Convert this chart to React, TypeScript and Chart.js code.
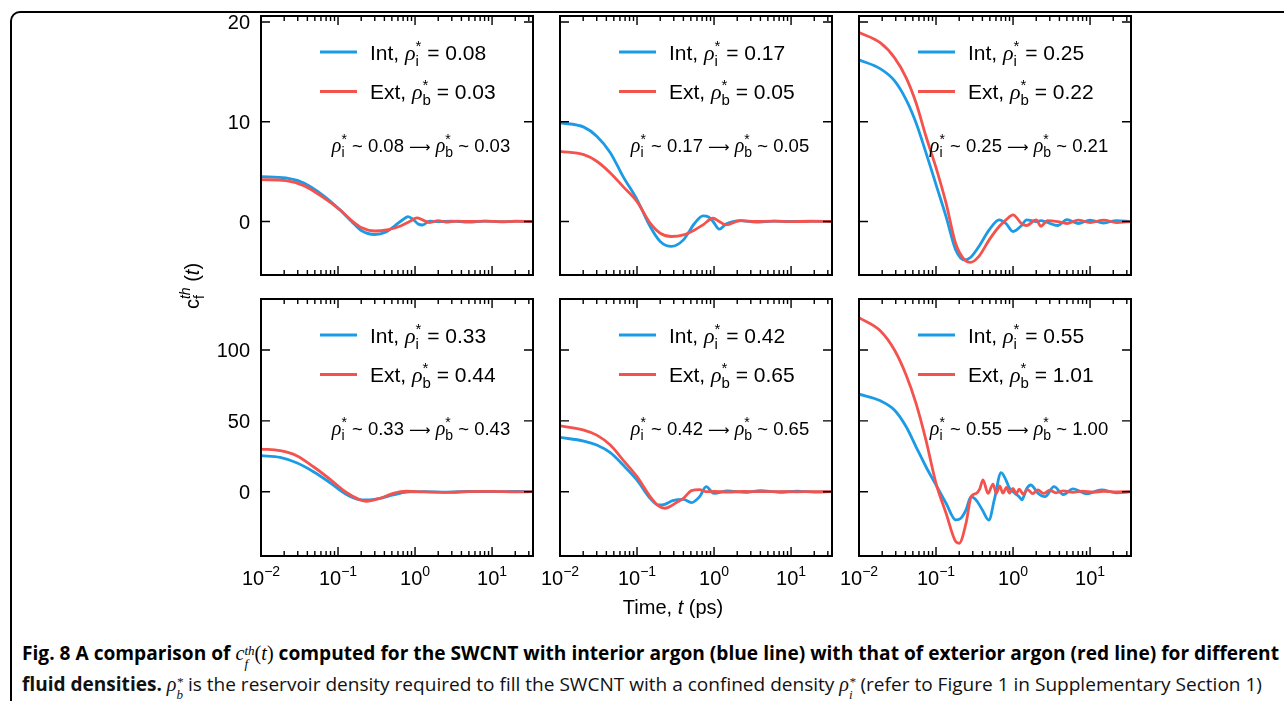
import React, { useEffect, useRef } from "react";
import { Chart, registerables } from "chart.js";

Chart.register(...registerables);

const SANS = '"Liberation Sans", Arial, sans-serif';
const SERIF = '"Liberation Serif", "DejaVu Serif", serif';
const ARROW_FONT = '"DejaVu Sans", sans-serif';
const BLUE = "#1b9be6";
const RED = "#f4534d";

// ---------- data (time in ps, c_f^th(t)) ----------
const T1_INT = [0.01, 0.021, 0.036, 0.062, 0.105, 0.15, 0.2, 0.3, 0.42, 0.55, 0.7, 0.81, 0.95, 1.1, 1.25, 1.55, 2.0, 3.0, 5, 8, 13, 20, 34];
const C1_INT = [4.5, 4.37, 3.86, 2.7, 1.2, 0.0, -0.9, -1.3, -1.05, -0.4, 0.2, 0.5, 0.2, -0.25, -0.35, 0.05, 0.0, 0.05, -0.05, 0.05, -0.03, 0.03, 0];
const T1_EXT = [0.01, 0.021, 0.036, 0.062, 0.105, 0.15, 0.2, 0.3, 0.45, 0.65, 0.85, 1.06, 1.25, 1.55, 2.0, 2.5, 3.5, 5, 8, 13, 20, 34];
const C1_EXT = [4.2, 4.1, 3.6, 2.5, 1.2, 0.1, -0.6, -0.95, -0.8, -0.45, 0.0, 0.37, 0.17, -0.1, 0.1, -0.05, 0.05, 0, 0.03, -0.02, 0.02, 0];

const T2_INT = [0.01, 0.0204, 0.03, 0.045, 0.066, 0.1, 0.148, 0.2, 0.28, 0.4, 0.56, 0.72, 0.85, 0.97, 1.17, 1.43, 2.2, 3.5, 6, 10, 18, 34];
const C2_INT = [9.9, 9.46, 8.55, 6.9, 4.5, 2.2, -0.5, -2.0, -2.5, -1.84, -0.17, 0.57, 0.45, 0.0, -0.77, -0.25, 0.1, -0.05, 0.05, 0, 0.03, 0];
const T2_EXT = [0.01, 0.0204, 0.03, 0.045, 0.066, 0.1, 0.148, 0.2, 0.28, 0.4, 0.56, 0.72, 0.97, 1.17, 1.43, 2.2, 3.5, 6, 10, 18, 34];
const C2_EXT = [7.04, 6.7, 6.04, 4.87, 3.5, 2.0, -0.17, -1.17, -1.5, -1.34, -0.84, -0.33, 0.33, 0.0, -0.33, 0.1, 0, 0.03, -0.02, 0.02, 0];

const T3_INT = [0.01, 0.019, 0.029, 0.041, 0.055, 0.074, 0.1, 0.135, 0.18, 0.235, 0.28, 0.36, 0.49, 0.66, 0.81, 1.0, 1.29, 1.5, 2.0, 2.3, 2.8, 3.8, 5, 7, 10, 15, 22, 34];
const C3_INT = [16.2, 15.3, 14.1, 12.2, 9.9, 6.9, 3.7, 0.5, -2.85, -3.85, -3.6, -2.5, -0.84, 0.17, -0.2, -1.0, -0.4, 0.17, 0, 0.1, -0.1, -0.4, 0.2, -0.2, 0.15, -0.15, 0.1, 0];
const T3_EXT = [0.01, 0.019, 0.029, 0.041, 0.055, 0.074, 0.1, 0.135, 0.18, 0.235, 0.28, 0.36, 0.49, 0.66, 0.81, 1.0, 1.29, 1.5, 2.0, 2.3, 2.8, 3.8, 5, 7, 10, 15, 22, 34];
const C3_EXT = [18.95, 17.9, 16.4, 14.4, 11.9, 8.55, 5.4, 1.85, -2.2, -3.85, -4.1, -3.5, -1.84, -0.5, 0.17, 0.67, -0.2, -0.4, 0.17, -0.47, 0.1, 0.0, -0.2, 0.15, -0.1, 0.15, -0.1, 0];

const T4_INT = [0.01, 0.0177, 0.029, 0.048, 0.079, 0.127, 0.19, 0.233, 0.35, 0.52, 0.78, 1.3, 2.6, 5, 10, 20, 34];
const C4_INT = [25.4, 24.2, 20.4, 14.1, 6.3, -1.8, -5.6, -5.8, -4.7, -2.3, -0.3, 0, -0.3, 0.2, 0, 0.2, 0];
const T4_EXT = [0.01, 0.0177, 0.029, 0.048, 0.079, 0.127, 0.19, 0.233, 0.35, 0.52, 0.78, 1.3, 2.6, 5, 10, 20, 34];
const C4_EXT = [30.1, 28.9, 25.4, 17.6, 8.7, -0.4, -5.6, -6.8, -4.7, -1.2, 0.3, -0.2, -0.5, 0, 0.2, -0.2, 0];

const T5_INT = [0.01, 0.0204, 0.03, 0.045, 0.066, 0.1, 0.148, 0.19, 0.23, 0.29, 0.4, 0.51, 0.65, 0.79, 1.0, 1.5, 2.5, 4, 7, 12, 20, 34];
const C5_INT = [38.3, 35.7, 32.9, 27.5, 18.8, 8.2, -4.7, -9.4, -8.9, -6.3, -5.4, -7.7, -3.5, 3.5, -1.2, 0.5, -0.5, 0.7, -0.4, 0.3, -0.3, 0];
const T5_EXT = [0.01, 0.0204, 0.03, 0.045, 0.066, 0.1, 0.148, 0.19, 0.23, 0.29, 0.34, 0.4, 0.51, 0.65, 0.79, 1.0, 1.5, 2.5, 4, 7, 12, 20, 34];
const C5_EXT = [46.5, 43.5, 39.9, 32.9, 22.3, 10.6, -3.5, -10.1, -11.7, -9.4, -7.0, -4.7, 0.7, 1.4, 0, 0.2, -0.3, 0.2, 0, 0.1, -0.1, 0.1, 0];

const T6_INT = [0.01, 0.019, 0.029, 0.041, 0.055, 0.074, 0.1, 0.135, 0.18, 0.21, 0.245, 0.285, 0.33, 0.4, 0.485, 0.575, 0.7, 0.81, 0.9, 1.05, 1.2, 1.3, 1.5, 1.7, 2.1, 2.6, 3.4, 4.5, 6, 9, 14, 22, 34];
const C6_INT = [68.8, 64.1, 57.5, 45.8, 31.7, 17.6, 4.7, -8.2, -19.9, -18.8, -12.9, -3.5, -5.8, -12.9, -20.0, -5.0, 13.4, 8.2, 2.4, -1.0, -3.5, -5.8, 2.0, 4.7, -1.0, -3.5, 3.5, -2.0, 2.0, -1.5, 1.2, -0.8, 0];
const T6_EXT = [0.01, 0.019, 0.029, 0.041, 0.055, 0.074, 0.1, 0.135, 0.18, 0.2, 0.245, 0.286, 0.333, 0.37, 0.407, 0.473, 0.55, 0.607, 0.67, 0.74, 0.82, 0.9, 1.0, 1.1, 1.2, 1.35, 1.55, 1.8, 2.1, 2.5, 3, 3.6, 4.5, 6, 8, 11, 15, 22, 34];
const C6_EXT = [122.8, 113.4, 99.8, 82.2, 62.3, 36.4, 5.9, -15.2, -35.2, -36.4, -22.3, -3.5, -1.2, 2.0, 8.3, -1.2, 5.4, -1.2, 4.0, -1.0, 3.1, -1.0, 2.4, -1.5, 1.8, -1.6, 1.5, -1.4, 1.2, -1.2, 1.0, -0.8, 0.6, -0.5, 0.4, -0.3, 0.2, -0.1, 0];

const INT_RHO = ["0.08", "0.17", "0.25", "0.33", "0.42", "0.55"];
const EXT_RHO = ["0.03", "0.05", "0.22", "0.44", "0.65", "1.01"];
const MAP_FROM = ["0.08", "0.17", "0.25", "0.33", "0.42", "0.55"];
const MAP_TO = ["0.03", "0.05", "0.21", "0.43", "0.65", "1.00"];

const X_MIN = 0.01;
const X_MAX = 34;
const X_DECADES = [-2, -1, 0, 1];
const Y_RANGE = [[-5.36, 20.6], [-45.4, 136]];
const Y_TICKS = [[0, 10, 20], [0, 50, 100]];

const SERIES = [
  [T1_INT, C1_INT, T1_EXT, C1_EXT],
  [T2_INT, C2_INT, T2_EXT, C2_EXT],
  [T3_INT, C3_INT, T3_EXT, C3_EXT],
  [T4_INT, C4_INT, T4_EXT, C4_EXT],
  [T5_INT, C5_INT, T5_EXT, C5_EXT],
  [T6_INT, C6_INT, T6_EXT, C6_EXT],
];

// ---------- layout ----------
const COL_X = [261, 560, 859];
const ROW_Y = [16, 299];
const PLOT_W = 272;
const PLOT_H = [259, 257];

type Part =
  | { t: string; f: string; dy?: number }
  | { sup: string; sub: string; f: string; supDy: number; subDy: number };

function partsWidth(ctx: CanvasRenderingContext2D, parts: Part[]) {
  let w = 0;
  for (const p of parts) {
    ctx.font = p.f;
    if ("sup" in p) w += Math.max(ctx.measureText(p.sup).width, ctx.measureText(p.sub).width);
    else w += ctx.measureText(p.t).width;
  }
  return w;
}

function drawParts(ctx: CanvasRenderingContext2D, parts: Part[], x: number, y: number, align: "left" | "center") {
  const w = partsWidth(ctx, parts);
  let cx = align === "center" ? x - w / 2 : x;
  ctx.textAlign = "left";
  ctx.textBaseline = "alphabetic";
  for (const p of parts) {
    ctx.font = p.f;
    if ("sup" in p) {
      ctx.fillText(p.sup, cx, y + p.supDy);
      ctx.fillText(p.sub, cx, y + p.subDy);
      cx += Math.max(ctx.measureText(p.sup).width, ctx.measureText(p.sub).width);
    } else {
      ctx.fillText(p.t, cx, y + (p.dy || 0));
      cx += ctx.measureText(p.t).width;
    }
  }
}

function legendParts(name: string, sub: string, val: string): Part[] {
  return [
    { t: name + ", ", f: `21px ${SANS}` },
    { t: "ρ", f: `italic 22px ${SERIF}` },
    { sup: "*", sub, f: `15px ${SANS}`, supDy: -9, subDy: 6 },
    { t: " = " + val, f: `21px ${SANS}` },
  ];
}

function mapParts(a: string, b: string): Part[] {
  return [
    { t: "ρ", f: `italic 20px ${SERIF}` },
    { sup: "*", sub: "i", f: `14px ${SANS}`, supDy: -8, subDy: 5 },
    { t: " ~ " + a + " ", f: `18.5px ${SANS}` },
    { t: "⟶", f: `15px ${ARROW_FONT}`, dy: -0.5 },
    { t: " ", f: `18.5px ${SANS}` },
    { t: "ρ", f: `italic 20px ${SERIF}` },
    { sup: "*", sub: "b", f: `14px ${SANS}`, supDy: -8, subDy: 5 },
    { t: " ~ " + b, f: `18.5px ${SANS}` },
  ];
}

function makeDecor(idx: number) {
  const row = Math.floor(idx / 3);
  const col = idx % 3;
  return {
    id: "decor" + idx,
    afterDatasetsDraw(chart: any) {
      const { ctx, chartArea: a } = chart;
      const xs = chart.scales.x;
      const ys = chart.scales.y;
      ctx.save();
      ctx.strokeStyle = "#000";
      ctx.fillStyle = "#000";
      ctx.lineWidth = 2;
      ctx.strokeRect(a.left, a.top, a.right - a.left, a.bottom - a.top);
      ctx.lineWidth = 1.4;
      ctx.beginPath();
      for (const e of X_DECADES) {
        for (let k = 1; k <= 9; k++) {
          const v = k * Math.pow(10, e);
          if (v < X_MIN * 0.999 || v > X_MAX) continue;
          const px = xs.getPixelForValue(v);
          const len = k === 1 ? 9 : 5;
          ctx.moveTo(px, a.bottom);
          ctx.lineTo(px, a.bottom - len);
          ctx.moveTo(px, a.top);
          ctx.lineTo(px, a.top + len);
        }
      }
      for (const v of Y_TICKS[row]) {
        const py = ys.getPixelForValue(v);
        ctx.moveTo(a.left, py);
        ctx.lineTo(a.left + 9, py);
        ctx.moveTo(a.right, py);
        ctx.lineTo(a.right - 9, py);
      }
      ctx.stroke();

      // y tick labels
      if (col === 0) {
        ctx.font = `20px ${SANS}`;
        ctx.textAlign = "right";
        ctx.textBaseline = "alphabetic";
        for (const v of Y_TICKS[row]) {
          const py = ys.getPixelForValue(v);
          ctx.fillText(String(v), a.left - 11, py + 7);
        }
      }
      // x tick labels
      if (row === 1) {
        for (const e of X_DECADES) {
          const px = xs.getPixelForValue(Math.pow(10, e));
          const exp = e < 0 ? "−" + String(-e) : String(e);
          drawParts(
            ctx,
            [
              { t: "10", f: `20px ${SANS}` },
              { t: exp, f: `14px ${SANS}`, dy: -9 },
            ],
            px,
            a.bottom + 29,
            "center"
          );
        }
      }

      // legend
      const rows = [
        { color: BLUE, parts: legendParts("Int", "i", INT_RHO[idx]), dy: 36 },
        { color: RED, parts: legendParts("Ext", "b", EXT_RHO[idx]), dy: 75.5 },
      ];
      for (const r of rows) {
        const y = a.top + r.dy;
        ctx.strokeStyle = r.color;
        ctx.lineWidth = 3;
        ctx.beginPath();
        ctx.moveTo(a.left + 59, y);
        ctx.lineTo(a.left + 96, y);
        ctx.stroke();
        ctx.fillStyle = "#000";
        drawParts(ctx, r.parts, a.left + 109, y + 7.5, "left");
      }
      // mapping annotation
      drawParts(ctx, mapParts(MAP_FROM[idx], MAP_TO[idx]), a.left + 160, a.top + 136, "center");
      ctx.restore();
    },
  };
}

function Panel({ idx }: { idx: number }) {
  const ref = useRef<HTMLCanvasElement>(null);
  const row = Math.floor(idx / 3);
  const col = idx % 3;
  const ml = col === 0 ? 70 : 40;
  const mr = 12;
  const mt = 12;
  const mb = row === 1 ? 44 : 12;
  const w = PLOT_W + ml + mr;
  const h = PLOT_H[row] + mt + mb;

  useEffect(() => {
    const [tI, cI, tE, cE] = SERIES[idx];
    const chart = new Chart(ref.current as HTMLCanvasElement, {
      type: "line",
      data: {
        datasets: [
          {
            label: "Int",
            data: tI.map((t, i) => ({ x: t, y: cI[i] })),
            borderColor: BLUE,
            borderWidth: 2.8,
            pointRadius: 0,
            fill: false,
            cubicInterpolationMode: "monotone",
            order: 1,
          },
          {
            label: "Ext",
            data: tE.map((t, i) => ({ x: t, y: cE[i] })),
            borderColor: RED,
            borderWidth: 2.8,
            pointRadius: 0,
            fill: false,
            cubicInterpolationMode: "monotone",
            order: 0,
          },
        ],
      },
      options: {
        responsive: false,
        animation: false,
        devicePixelRatio: 1,
        events: [],
        layout: { padding: { left: ml, right: mr, top: mt, bottom: mb } },
        plugins: { legend: { display: false }, tooltip: { enabled: false } },
        scales: {
          x: { type: "logarithmic", min: X_MIN, max: X_MAX, display: false },
          y: { type: "linear", min: Y_RANGE[row][0], max: Y_RANGE[row][1], display: false },
        },
      } as any,
      plugins: [makeDecor(idx)],
    });
    return () => chart.destroy();
  }, [idx]);

  return (
    <canvas
      ref={ref}
      width={w}
      height={h}
      style={{ position: "absolute", left: COL_X[col] - ml, top: ROW_Y[row] - mt, width: w, height: h }}
    />
  );
}

function Stack({ sup, sub, size, raise, font, italicSub }: { sup: string; sub: string; size: number; raise: number; font?: string; italicSub?: boolean }) {
  return (
    <span
      style={{
        display: "inline-flex",
        flexDirection: "column",
        fontSize: size,
        lineHeight: 1,
        verticalAlign: raise,
        alignItems: "flex-start",
        fontFamily: font,
        fontWeight: 400,
      }}
    >
      <span style={{ fontStyle: "italic" }}>{sup}</span>
      <span style={{ fontStyle: italicSub ? "italic" : "normal" }}>{sub}</span>
    </span>
  );
}

function fitWidth(el: HTMLElement | null, target: number) {
  if (!el) return;
  el.style.transform = "none";
  const w = el.getBoundingClientRect().width;
  if (w > 0) el.style.transform = `scaleX(${target / w})`;
}

export default function App() {
  const line1 = useRef<HTMLSpanElement>(null);
  const line2 = useRef<HTMLSpanElement>(null);

  useEffect(() => {
    const run = () => {
      fitWidth(line1.current, 1257);
      fitWidth(line2.current, 1240);
    };
    run();
    if ((document as any).fonts && (document as any).fonts.ready) (document as any).fonts.ready.then(run);
  }, []);

  const capFont = '"Open Sans", "Noto Sans", sans-serif';

  return (
    <div
      style={{
        position: "absolute",
        left: 0,
        top: 0,
        width: 1284,
        height: 701,
        overflow: "hidden",
        background: "#fff",
        color: "#000",
        fontFamily: SANS,
      }}
    >
      <div
        style={{
          position: "absolute",
          left: 10,
          top: 11,
          width: 1330,
          height: 760,
          border: "2px solid #000",
          borderRadius: 10,
          boxSizing: "border-box",
        }}
      />
      {[0, 1, 2, 3, 4, 5].map((i) => (
        <Panel key={i} idx={i} />
      ))}

      {/* y-axis title */}
      <div
        style={{
          position: "absolute",
          left: 192 - 70,
          top: 286 - 15,
          width: 140,
          height: 30,
          display: "flex",
          alignItems: "center",
          justifyContent: "center",
          transform: "rotate(-90deg)",
          fontSize: 20,
          whiteSpace: "nowrap",
          lineHeight: 1,
        }}
      >
        <span>c</span>
        <Stack sup="th" sub="f" size={14} raise={0} />
        <span>&nbsp;(</span>
        <span style={{ fontStyle: "italic" }}>t</span>
        <span>)</span>
      </div>

      {/* x-axis title */}
      <div
        style={{
          position: "absolute",
          left: 673 - 100,
          top: 595,
          width: 200,
          textAlign: "center",
          fontSize: 20,
          lineHeight: "24px",
          whiteSpace: "nowrap",
        }}
      >
        Time, <span style={{ fontStyle: "italic" }}>t</span> (ps)
      </div>

      {/* caption */}
      <div style={{ position: "absolute", left: 22, top: 643, lineHeight: 1, whiteSpace: "nowrap", fontFamily: capFont, fontSize: 19 }}>
        <span ref={line1} style={{ display: "inline-block", transformOrigin: "left center", fontWeight: 700 }}>
          Fig. 8 A comparison of{" "}
          <span style={{ fontFamily: SERIF, fontStyle: "italic", fontWeight: 400, fontSize: 20 }}>c</span>
          <Stack sup="th" sub="f" size={13} raise={5} font={SERIF} italicSub />
          <span style={{ fontFamily: SERIF, fontWeight: 400, fontSize: 20 }}>
            (<span style={{ fontStyle: "italic" }}>t</span>)
          </span>{" "}
          computed for the SWCNT with interior argon (blue line) with that of exterior argon (red line) for different
        </span>
      </div>
      <div style={{ position: "absolute", left: 22, top: 674, lineHeight: 1, whiteSpace: "nowrap", fontFamily: capFont, fontSize: 19 }}>
        <span ref={line2} style={{ display: "inline-block", transformOrigin: "left center", fontWeight: 400, color: "#111" }}>
          <span style={{ fontWeight: 700 }}>fluid densities.</span>{" "}
          <span style={{ fontFamily: SERIF, fontStyle: "italic", fontSize: 20 }}>ρ</span>
          <Stack sup="*" sub="b" size={13} raise={5} font={SERIF} italicSub />
          {" "}is the reservoir density required to fill the SWCNT with a confined density{" "}
          <span style={{ fontFamily: SERIF, fontStyle: "italic", fontSize: 20 }}>ρ</span>
          <Stack sup="*" sub="i" size={13} raise={5} font={SERIF} italicSub />
          {" "}(refer to Figure 1 in Supplementary Section 1)
        </span>
      </div>
    </div>
  );
}
